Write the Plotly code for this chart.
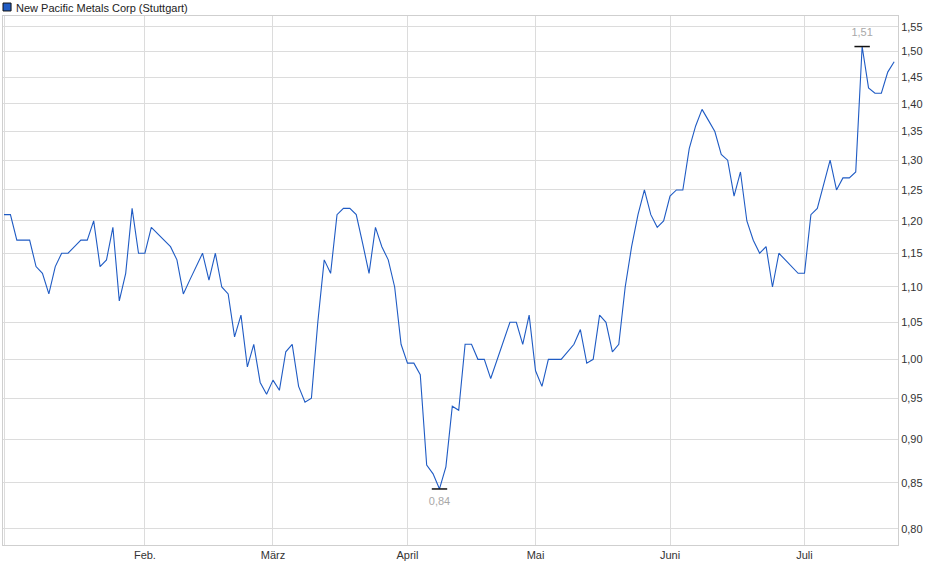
import numpy as np
import pandas as pd
import plotly.graph_objects as go

# Trading days at Stuttgart, Jan 2 - Jul 21 2025 (holidays excluded)
holidays = ["2025-04-18", "2025-04-21", "2025-05-01"]
dates = pd.bdate_range("2025-01-02", "2025-07-21", freq="C", holidays=holidays)
dates = [d.strftime("%Y-%m-%d") for d in dates]

# Closing prices in EUR
prices = [
    1.21, 1.21, 1.17, 1.17, 1.17, 1.13, 1.12, 1.09, 1.13, 1.15,
    1.15, 1.16, 1.17, 1.17, 1.20, 1.13, 1.14, 1.19, 1.08, 1.12,
    1.22, 1.15, 1.15, 1.19, 1.18, 1.17, 1.16, 1.14, 1.09, 1.11,
    1.13, 1.15, 1.11, 1.15, 1.10, 1.09, 1.03, 1.06, 0.99, 1.02,
    0.97, 0.955, 0.973, 0.96, 1.01, 1.02, 0.965, 0.945, 0.95, 1.05,
    1.14, 1.12, 1.21, 1.22, 1.22, 1.21, 1.165, 1.12, 1.19, 1.16,
    1.14, 1.10, 1.02, 0.995, 0.995, 0.98, 0.87, 0.86, 0.843, 0.868,
    0.94, 0.935, 1.02, 1.02, 1.00, 1.00, 0.975, 1.00, 1.025, 1.05,
    1.05, 1.02, 1.06, 0.985, 0.965, 1.00, 1.00, 1.00, 1.01, 1.02,
    1.04, 0.995, 1.00, 1.06, 1.05, 1.01, 1.02, 1.10, 1.16, 1.21,
    1.25, 1.21, 1.19, 1.20, 1.24, 1.25, 1.25, 1.32, 1.36, 1.39,
    1.37, 1.35, 1.31, 1.30, 1.24, 1.28, 1.20, 1.17, 1.15, 1.16,
    1.10, 1.15, 1.14, 1.13, 1.12, 1.12, 1.21, 1.22, 1.26, 1.30,
    1.25, 1.27, 1.27, 1.28, 1.51, 1.43, 1.42, 1.42, 1.46, 1.48,
]

month_names = ["", "Feb.", "März", "April", "Mai", "Juni", "Juli"]
y_ticks = [0.80, 0.85, 0.90, 0.95, 1.00, 1.05, 1.10, 1.15, 1.20,
           1.25, 1.30, 1.35, 1.40, 1.45, 1.50, 1.55]

# first trading day of each month -> x ticks
month_starts = []
seen = set()
for d in dates:
    if d[:7] not in seen:
        seen.add(d[:7])
        month_starts.append(d)

i_max = int(np.argmax(prices))
i_min = int(np.argmin(prices))

fig = go.Figure()
fig.add_trace(go.Scatter(
    x=dates, y=prices, mode="lines",
    line=dict(color="#1f5bc4", width=1.1),
    hoverinfo="x+y", showlegend=False,
))
# high / low markers
for i, pos in [(i_max, "top center"), (i_min, "bottom center")]:
    fig.add_trace(go.Scatter(
        x=[dates[i]], y=[prices[i]], mode="markers+text",
        marker=dict(symbol="line-ew-open", size=11, color="#111",
                    line=dict(color="#111", width=1.5)),
        text=[f"{prices[i]:.2f}".replace(".", ",")], textposition=pos,
        textfont=dict(color="#a8a8a8", size=11), showlegend=False,
    ))

# legend box + title text
fig.add_shape(type="rect", xref="paper", yref="paper",
              x0=0.0, x1=0.009, y0=1.0095, y1=1.0245,
              fillcolor="#1f5bc4", line=dict(color="#111", width=1))
fig.add_annotation(text="New Pacific Metals Corp (Stuttgart)", xref="paper", yref="paper",
                   x=0.0125, y=1.031, xanchor="left", yanchor="top", showarrow=False,
                   font=dict(size=11, color="#222"))

fig.update_layout(
    width=940, height=579,
    margin=dict(l=3, r=42, t=16, b=34),
    paper_bgcolor="white", plot_bgcolor="white",
    font=dict(family="Liberation Sans, Arial, sans-serif", size=11, color="#333"),
    separators=",.",
)
fig.update_xaxes(
    type="category", range=[-0.16, 139.6], automargin=False,
    tickvals=month_starts, ticktext=month_names,
    showgrid=True, gridcolor="#dcdcdc", gridwidth=1,
    showline=True, linecolor="#cfcfcf", mirror=True,
    ticks="", tickfont=dict(size=11, color="#333"),
)
fig.update_yaxes(
    type="log", side="right", automargin=False,
    range=[np.log10(0.783), np.log10(1.572)],
    tickvals=y_ticks, tickformat=".2f",
    showgrid=True, gridcolor="#dcdcdc", gridwidth=1,
    showline=True, linecolor="#cfcfcf", mirror=True,
    ticks="", zeroline=False, tickfont=dict(size=11, color="#333"),
)

# drop the browser's default body margin so the figure sits at 0,0
fig.write_html("out.html", config={"displayModeBar": False},
               post_script="document.body.style.margin='0';")
